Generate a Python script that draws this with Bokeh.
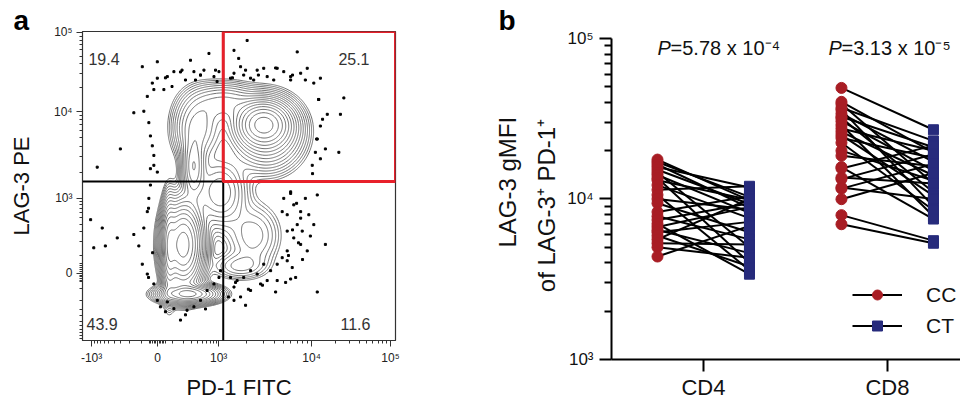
import numpy as np
from bokeh.plotting import figure
from bokeh.layouts import row
from bokeh.models import (Range1d, FixedTicker, Label, Span, BoxAnnotation, Title,
                          ColumnDataSource, Legend, LegendItem)
from bokeh.embed import file_html
from bokeh.resources import INLINE

FONT = "Liberation Sans"
NBSP = "\u00a0"

# ===================== Panel a : flow cytometry plot =====================
# biexponential display scale (display units 0..1000 across each axis)
pd1_scale_vals = [-1000, 0, 1000, 10000, 100000]
pd1_scale_disp = [29, 240, 435, 732, 984]
lag3_scale_vals = [-1000, 0, 1000, 10000, 100000]
lag3_scale_disp = [8, 217, 460, 741, 997]

pd1_tick_vals = [-1000, 0, 1000, 10000, 100000]
pd1_tick_labels = ["-10³", "0", "10³", "10⁴", "10⁵"]
lag3_tick_vals = [0, 1000, 10000, 100000]
lag3_tick_labels = ["0", "10³", "10⁴", "10⁵"]

gate_pd1 = 1120
gate_lag3 = 1560
quad_pct = ["19.4", "25.1", "43.9", "11.6"]   # UL, UR, LL, LR

# density populations (display units)
pop_x = [322, 276, 340, 578, 588, 370, 355, 440, 545, 500, 455]
pop_y = [310, 300, 150, 700, 670, 690, 560, 480, 340, 240, 770]
pop_sx = [32, 12, 50, 45, 60, 42, 20, 45, 50, 50, 55]
pop_sy = [70, 80, 16, 38, 62, 60, 55, 60, 60, 25, 35]
pop_w = [1.0, 0.4, 0.5, 0.8, 0.25, 0.18, 0.25, 0.15, 0.06, 0.05, 0.12]

# outlier events (display units)
dot_x = [239, 191, 292, 318, 345, 356, 377, 404, 420, 436, 271, 239, 223, 207, 260, 286, 329, 361, 388, 430,
         228, 164, 196, 212, 217, 223, 228, 228, 239, 121, 47,
         526, 484, 499, 505, 515, 537, 558, 579, 590, 622, 643, 665, 686, 697, 718, 760, 739, 755, 782, 824,
         835, 760, 750, 744, 734, 819, 484, 473, 547, 611, 665,
         643, 665, 675, 697, 712, 723, 686, 654, 675, 697, 718, 750, 739, 776, 654, 638, 622, 601, 579, 558,
         537, 515, 494, 473, 484, 505, 537, 569, 590, 622, 665, 521, 484, 750, 654, 638, 702, 728, 654, 670,
         191, 207, 228, 239, 249, 271, 292, 313, 334, 356, 377, 398, 420, 436, 441, 26, 63, 111, 36, 73,
         164, 180, 196, 207, 212, 217,
         265, 313, 377, 425, 479, 521, 562, 617, 671, 712, 754, 767, 748, 760, 735, 776,
         665, 684, 697, 671, 690, 658, 703, 681, 489, 530, 575, 617, 649, 466,
         217, 211, 224, 211, 265, 329, 393]
dot_y = [902, 886, 870, 875, 907, 870, 859, 929, 854, 870, 854, 849, 833, 790, 812, 822, 843, 843, 875, 838,
         812, 737, 742, 705, 662, 630, 599, 567, 545, 620, 561,
         971, 939, 913, 886, 859, 849, 875, 881, 854, 881, 870, 854, 934, 865, 881, 849, 833, 780, 732, 732,
         785, 694, 652, 609, 567, 609, 865, 849, 843, 843, 843,
         460, 481, 439, 417, 460, 407, 375, 354, 332, 311, 290, 471, 375, 311, 290, 268, 247, 226, 247, 215,
         226, 204, 194, 204, 173, 141, 162, 183, 194, 194, 199, 114, 130, 157, 407, 417, 354, 338, 258, 236,
         247, 215, 183, 130, 109, 125, 103, 66, 98, 109, 130, 162, 183, 204, 226, 391, 364, 332, 300, 306,
         343, 306, 364, 417, 460, 503,
         850, 869, 859, 875, 850, 875, 859, 882, 859, 843, 780, 716, 652, 588, 540, 620,
         476, 444, 396, 358, 316, 275, 262, 204, 188, 166, 179, 157, 188, 141,
         556, 428, 284, 204, 93, 83, 102]

# ===================== Panel b : paired LAG-3 gMFI =====================
groups = ["CD4", "CD8"]
series_names = ["CC", "CT"]
cd4_cc = [17600, 17000, 16400, 15800, 15200, 14600, 14100, 13500, 13100, 12200, 11400, 10600, 10000,
          9400, 8300, 7800, 7400, 7000, 6700, 6400, 6200, 5900, 5600, 5300, 5000, 4380]
cd4_ct = [9800, 10300, 8800, 11800, 9300, 5000, 8200, 4000, 9900, 7600, 12000, 3600, 8600,
          6200, 10400, 5600, 9400, 3400, 8900, 4600, 7200, 3800, 10000, 5200, 4300, 6800]
cd8_cc = [49200, 40300, 39000, 37000, 35900, 34000, 32500, 31900, 30500, 28900, 27500, 26200, 25000,
          24000, 22400, 20000, 18600, 15800, 15500, 13600, 13300, 11800, 11600, 9970, 7930, 6960]
cd8_ct = [27000, 19500, 12500, 23000, 9000, 17000, 21000, 11000, 15000, 7800, 20000, 14000, 10500,
          18000, 8500, 13000, 16000, 7500, 21500, 12500, 19000, 10000, 16500, 14500, 5500, 5300]
p_values = ["=5.78 x 10⁻⁴", "=3.13 x 10⁻⁵"]
y_label_lines = ["LAG-3 gMFI", "of LAG-3⁺ PD-1⁺"]


# ---------------------------------------------------------------------
def biex(v, vals, disp, c=150.0):
    v = float(v)
    i0, i1, im = vals.index(0), vals.index(1000), vals.index(-1000)
    if v >= 1000:
        logs = [3, 4, 5]
        ds = [disp[vals.index(10 ** k)] for k in logs]
        return round(float(np.interp(np.log10(v), logs, ds)), 2)
    s = np.arcsinh(abs(v) / c) / np.arcsinh(1000 / c)
    if v >= 0:
        return round(float(disp[i0] + (disp[i1] - disp[i0]) * s), 2)
    return round(float(disp[i0] - (disp[i0] - disp[im]) * s), 2)


def minor_values(extra_neg):
    m = [j * 10 ** k for k in (3, 4) for j in range(2, 10)]
    m += [j * 100 for j in range(1, 10)] + [-j * 100 for j in range(1, 10)]
    m += [j * 10 for j in range(1, 6)] + [-j * 10 for j in range(1, 6)]
    return m + extra_neg


TXT = "#222222"
pa = figure(width=480, height=402, x_range=Range1d(0, 1000), y_range=Range1d(0, 1000),
            output_backend="svg", toolbar_location=None, frame_align=False,
            min_border_left=82, min_border_right=85, min_border_top=31, min_border_bottom=58)
pa.grid.visible = False
pa.outline_line_color = "#333333"
pa.outline_line_width = 1.2

# panel letter
pa.title.text = "a"
pa.title.align = "left"
pa.title.offset = -69
pa.title.standoff = -8
pa.title.text_font = FONT
pa.title.text_font_size = "28px"
pa.title.text_font_style = "bold"
pa.title.text_color = "black"

# contours
gx = np.linspace(0, 1000, 301)
gy = np.linspace(0, 1000, 301)
GX, GY = np.meshgrid(gx, gy)
Z = np.zeros_like(GX)
for cx, cy, sx, sy, w in zip(pop_x, pop_y, pop_sx, pop_sy, pop_w):
    Z += w * np.exp(-0.5 * (((GX - cx) / sx) ** 2 + ((GY - cy) / sy) ** 2))
levels = list(np.geomspace(0.012, 0.85, 16))
pa.contour(gx, gy, Z, levels=levels, line_color="#707070", line_width=1)

pa.scatter(dot_x, dot_y, size=2, marker="square", color="black")

gxd = biex(gate_pd1, pd1_scale_vals, pd1_scale_disp)
gyd = biex(gate_lag3, lag3_scale_vals, lag3_scale_disp)
pa.add_layout(Span(location=gxd, dimension="height", line_color="black", line_width=2))
pa.add_layout(Span(location=gyd, dimension="width", line_color="black", line_width=2))
pa.add_layout(BoxAnnotation(left=gxd, bottom=gyd, fill_color=None, fill_alpha=0,
                            line_color="#e8202a", line_alpha=1.0, line_width=3))

# axes
xt = [biex(v, pd1_scale_vals, pd1_scale_disp) for v in pd1_tick_vals]
xm = [biex(v, pd1_scale_vals, pd1_scale_disp) for v in minor_values([])]
yt = [biex(v, lag3_scale_vals, lag3_scale_disp) for v in lag3_tick_vals]
ym = [biex(v, lag3_scale_vals, lag3_scale_disp) for v in minor_values([-1000])]
pa.xaxis.ticker = FixedTicker(ticks=xt, minor_ticks=[m for m in xm if 0 < m < 1000])
pa.yaxis.ticker = FixedTicker(ticks=yt, minor_ticks=[m for m in ym if 0 < m < 1000])
pa.xaxis.major_label_overrides = {t: l for t, l in zip(xt, pd1_tick_labels)}
pa.yaxis.major_label_overrides = {t: l for t, l in zip(yt, lag3_tick_labels)}
for ax in (pa.xaxis[0], pa.yaxis[0]):
    ax.axis_line_color = "#333333"
    ax.major_tick_line_color = "#333333"
    ax.minor_tick_line_color = "#333333"
    ax.major_tick_in = 0
    ax.major_tick_out = 6
    ax.minor_tick_in = 0
    ax.minor_tick_out = 3
    ax.major_label_text_font = FONT
    ax.major_label_text_font_size = "12px"
    ax.major_label_text_color = TXT
    ax.major_label_standoff = 4
    ax.axis_label_text_font = FONT
    ax.axis_label_text_font_size = "22px"
    ax.axis_label_text_font_style = "normal"
    ax.axis_label_text_color = "#111111"
pa.xaxis.axis_label = "PD-1 FITC"
pa.yaxis.axis_label = "LAG-3 PE"
pa.xaxis.axis_label_standoff = 7
pa.yaxis.axis_label_standoff = 17

quad_pos = [(19, 911, "left"), (917, 911, "right"), (13, 54, "left"), (920, 54, "right")]
for txt, (qx, qy, al) in zip(quad_pct, quad_pos):
    pa.add_layout(Label(x=qx, y=qy, text=txt, text_align=al, text_baseline="alphabetic",
                        text_font=FONT, text_font_size="16px", text_color="#333333"))

# ---------------------------------------------------------------------
RED = "#a81d24"
BLUE = "#272b7c"
pb = figure(width=480, height=402, x_range=Range1d(0.5, 2.397), y_range=Range1d(1e3, 1.105e5),
            y_axis_type="log", output_backend="svg", toolbar_location=None, frame_align=False,
            min_border_left=131, min_border_right=0, min_border_top=31, min_border_bottom=41)
pb.grid.visible = False
pb.outline_line_color = None

pb.title.text = "b"
pb.title.align = "left"
pb.title.offset = -113
pb.title.standoff = -8
pb.title.text_font = FONT
pb.title.text_font_size = "28px"
pb.title.text_font_style = "bold"
pb.title.text_color = "black"

off = 0.25
xs_cc, xs_ct, ys_cc, ys_ct = [], [], [], []
for gi, (cc, ct) in enumerate([(cd4_cc, cd4_ct), (cd8_cc, cd8_ct)]):
    xs_cc += [gi + 1 - off] * len(cc)
    xs_ct += [gi + 1 + off] * len(ct)
    ys_cc += cc
    ys_ct += ct
src = ColumnDataSource(dict(x0=xs_cc, y0=ys_cc, x1=xs_ct, y1=ys_ct))
seg = pb.segment(x0="x0", y0="y0", x1="x1", y1="y1", source=src, line_color="black", line_width=2)
rc = pb.scatter(x="x0", y="y0", source=src, marker="circle", size=11, fill_color=RED, line_color=RED)
rs = pb.scatter(x="x1", y="y1", source=src, marker="square", size=10, fill_color=BLUE, line_color=BLUE)

pb.yaxis.ticker = FixedTicker(ticks=[1e3, 1e4, 1e5],
                              minor_ticks=[j * 10 ** k for k in (3, 4) for j in range(2, 10)])
pb.yaxis.major_label_overrides = {1e3: "10³", 1e4: "10⁴", 1e5: "10⁵"}
pb.yaxis.bounds = (1e3, 1e5)
pb.xaxis.ticker = FixedTicker(ticks=[1, 2])
pb.xaxis.major_label_overrides = {1: groups[0], 2: groups[1]}
for ax in (pb.xaxis[0], pb.yaxis[0]):
    ax.axis_line_color = "black"
    ax.axis_line_width = 2
    ax.major_tick_line_color = "black"
    ax.major_tick_line_width = 2
    ax.major_tick_in = 0
    ax.major_tick_out = 12
    ax.minor_tick_line_color = "black"
    ax.minor_tick_line_width = 2
    ax.minor_tick_in = 0
    ax.minor_tick_out = 7
    ax.major_label_text_font = FONT
    ax.major_label_text_color = "#111111"
pb.xaxis.minor_tick_line_color = None
pb.xaxis.major_label_text_font_size = "22px"
pb.xaxis.major_label_standoff = 3
pb.yaxis.major_label_text_font_size = "17px"
pb.yaxis.major_label_standoff = 6

# two-line y-axis title, stacked outward from the axis (non-breaking spaces nudge the centring)
line_texts = [y_label_lines[1] + NBSP * 3, NBSP * 4 + y_label_lines[0]]
for txt in line_texts:
    pb.add_layout(Title(text=txt, align="center", standoff=10, text_font=FONT,
                        text_font_size="24px", text_font_style="normal", text_color="#111111"), "left")

for gi, pv in enumerate(p_values):
    px0 = [0.75, 1.679][gi]
    pb.add_layout(Label(x=px0, y=87000, text="P", text_font=FONT, text_font_size="20px",
                        text_font_style="italic", text_baseline="alphabetic", text_color="#111111"))
    pb.add_layout(Label(x=px0 + 0.071, y=87000, text=pv, text_font=FONT, text_font_size="20px",
                        text_baseline="alphabetic", text_color="#111111"))

legend = Legend(items=[LegendItem(label=series_names[0], renderers=[seg, rc]),
                       LegendItem(label=series_names[1], renderers=[seg, rs])],
                location=(241, 21), glyph_width=50, glyph_height=25, label_height=25,
                label_standoff=24, spacing=6, padding=0, margin=0, border_line_color=None,
                background_fill_alpha=0, label_text_font=FONT, label_text_font_size="21px",
                label_text_color="#111111")
pb.add_layout(legend)

layout = row(pa, pb)
open("out.html", "w").write(file_html(layout, INLINE))
